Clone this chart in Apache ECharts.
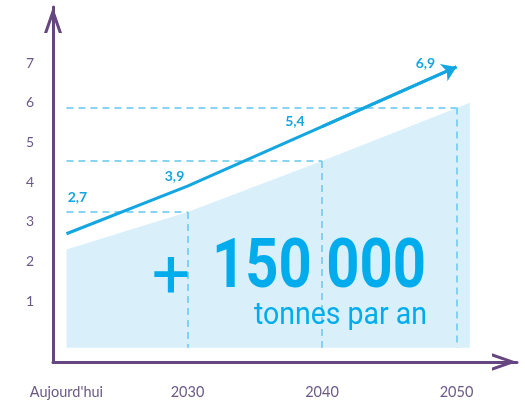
<!DOCTYPE html>
<html>
<head>
<meta charset="utf-8">
<script src="https://cdn.jsdelivr.net/npm/echarts@6/dist/echarts.min.js"></script>
<style>
  html, body { margin: 0; padding: 0; background: #ffffff; }
  #chart { width: 525px; height: 402px; }
</style>
</head>
<body>
<div id="chart"></div>
<script>
// Horizontal axis: milestones and the year each one stands for
const xLabels = ["Aujourd'hui", "2030", "2040", "2050"];
const xYears = [2021, 2030, 2040, 2050];
// Vertical axis tick labels
const yTicks = [1, 2, 3, 4, 5, 6, 7];
// Trend line values, one per milestone
const lineValues = [2.7, 3.9, 5.4, 6.9];
// Shaded band underneath the trend
const areaYears = [2021, 2030, 2040, 2051];
const areaValues = [2.3, 3.25, 4.53, 6.0];
const areaBase = -0.17;
// Dashed guide levels at each decade
const guideYears = [2030, 2040, 2050];
const guideValues = [3.25, 4.53, 5.88];
// Headline figure
const headlineSign = '+';
const headline = '150 000';
const unitText = 'tonnes par an';

// Styling
const AXIS = '#664681';
const TICK_TEXT = '#6b5a87';
const BLUE = '#14a6e1';
const BIG_BLUE = '#00acec';
const GUIDE = '#62c8f0';
const BAND = '#d9f0fb';
const FONT = 'Lato, "Open Sans", sans-serif';
// open chevron used as the axis arrowhead (points up, rotated by the axis)
const CHEVRON = 'path://M0,26 L9,0 L18,26 L14.8,26 L9,9.2 L3.2,26 Z';
// per-label nudges (px) keeping each value clear of the line
const labelNudge = [[11, -36], [-13, -10], [-27, -5], [-31, -3]];

const fmt = v => String(v).replace('.', ',');

const trendData = xYears.map((x, i) => ({
  value: [x, lineValues[i]],
  label: { offset: labelNudge[i] }
}));

const guideSegments = [];
guideYears.forEach((yr, i) => {
  guideSegments.push({ coords: [[xYears[0], guideValues[i]], [yr, guideValues[i]]] });
  guideSegments.push({ coords: [[yr, guideValues[i]], [yr, areaBase]] });
});

const chart = echarts.init(document.getElementById('chart'), null, { renderer: 'canvas' });
chart.setOption({
  animation: false,
  backgroundColor: '#ffffff',
  grid: { left: 53, right: 8, top: 7, bottom: 40, containLabel: false, outerBoundsMode: 'none' },
  xAxis: {
    type: 'value',
    min: 2020,
    max: 2054.5,
    axisLine: {
      show: true,
      onZero: false,
      lineStyle: { color: AXIS, width: 3 },
      symbol: ['none', CHEVRON],
      symbolSize: [19, 25],
      symbolOffset: [0, -12.5]
    },
    axisTick: { show: false },
    splitLine: { show: false },
    axisLabel: {
      customValues: xYears,
      formatter: v => xLabels[xYears.indexOf(v)],
      color: TICK_TEXT,
      fontFamily: FONT,
      fontSize: 14.5,
      margin: 23
    }
  },
  yAxis: {
    type: 'value',
    min: -0.53,
    max: 8.41,
    axisLine: {
      show: true,
      onZero: false,
      lineStyle: { color: AXIS, width: 3 },
      symbol: ['none', CHEVRON],
      symbolSize: [18, 26],
      symbolOffset: [0, -13]
    },
    axisTick: { show: false },
    splitLine: { show: false },
    axisLabel: {
      customValues: yTicks,
      color: TICK_TEXT,
      fontFamily: FONT,
      fontSize: 14,
      margin: 19
    }
  },
  series: [
    {
      type: 'line',
      z: 1,
      silent: true,
      symbol: 'none',
      data: areaYears.map((x, i) => [x, areaValues[i]]),
      lineStyle: { width: 0, opacity: 0 },
      areaStyle: { color: BAND, opacity: 1, origin: areaBase }
    },
    {
      type: 'lines',
      z: 2,
      silent: true,
      coordinateSystem: 'cartesian2d',
      data: guideSegments,
      lineStyle: { color: GUIDE, width: 1.5, type: [7, 5], opacity: 1 }
    },
    {
      type: 'line',
      z: 4,
      silent: true,
      symbol: 'circle',
      symbolSize: 0,
      data: trendData,
      lineStyle: { color: BLUE, width: 3 },
      label: {
        show: true,
        position: 'inside',
        formatter: p => fmt(p.value[1]),
        color: BLUE,
        fontFamily: FONT,
        fontWeight: 'bold',
        fontSize: 14
      },
      markLine: {
        silent: true,
        animation: false,
        symbol: ['none', 'arrow'],
        symbolSize: 14,
        label: { show: false },
        lineStyle: { color: BLUE, width: 3, type: 'solid' },
        emphasis: { disabled: true },
        data: [[
          { coord: [xYears[2], lineValues[2]] },
          { coord: [xYears[3], lineValues[3]] }
        ]]
      }
    }
  ],
  graphic: [
    {
      type: 'text', x: 171, y: 280, z: 10, silent: true,
      style: { text: headlineSign, font: '68px Roboto', fill: BIG_BLUE, align: 'center', verticalAlign: 'middle' }
    },
    {
      type: 'text', x: 212, y: 270, z: 10, scaleX: 0.84, silent: true,
      style: { text: headline, font: 'bold 69px Roboto', fill: BIG_BLUE, align: 'left', verticalAlign: 'middle' }
    },
    {
      type: 'text', x: 254, y: 316, z: 10, scaleX: 0.89, silent: true,
      style: { text: unitText, font: '32px Roboto', fill: BIG_BLUE, align: 'left', verticalAlign: 'middle' }
    }
  ]
});
</script>
</body>
</html>
